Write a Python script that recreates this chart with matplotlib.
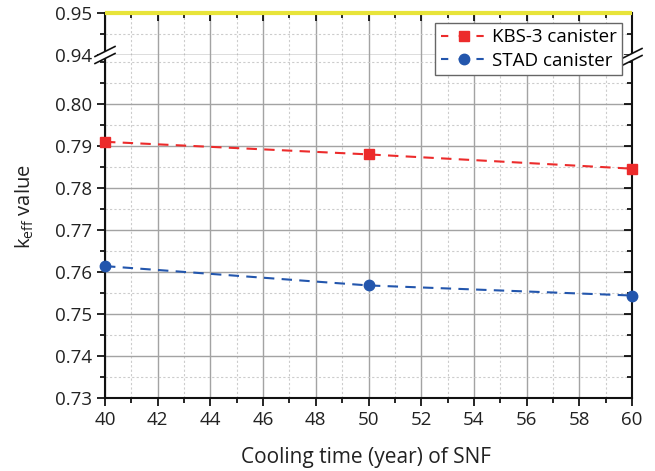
import matplotlib
matplotlib.use("Agg")
import matplotlib.pyplot as plt
from matplotlib.ticker import MultipleLocator
from matplotlib.lines import Line2D
from matplotlib.patches import Polygon

plt.rcParams['font.family'] = ['Open Sans', 'DejaVu Sans']
plt.rcParams['mathtext.fontset'] = 'custom'
plt.rcParams['mathtext.rm'] = 'Open Sans'
plt.rcParams['mathtext.it'] = 'Open Sans'

# data
cooling_time = [40, 50, 60]
kbs3 = [0.7910, 0.7880, 0.7846]
stad = [0.7614, 0.7568, 0.7544]
limit_value = 0.95
series_labels = ["KBS-3 canister", "STAD canister"]

red = '#ec2b2b'
blue = '#2356ad'
yellow = '#e8e43a'
txt = '#222222'

fig = plt.figure(figsize=(6.55, 4.71), dpi=100)
W, H = 655, 471
left, right = 105 / W, 632 / W
y_top, y_brk, y_bot = 1 - 13 / H, 1 - 55 / H, 1 - 398 / H

ax_hi = fig.add_axes([left, y_brk, right - left, y_top - y_brk])
ax_lo = fig.add_axes([left, y_bot, right - left, y_brk - y_bot])

gmaj = dict(color='#a3a3a3', lw=1.0, ls='-')
gmin = dict(color='#cccccc', lw=0.8, ls=(0, (2, 2)))

for ax in (ax_hi, ax_lo):
    ax.set_xlim(40, 60)
    ax.xaxis.set_major_locator(MultipleLocator(2))
    ax.xaxis.set_minor_locator(MultipleLocator(1))
    ax.yaxis.set_major_locator(MultipleLocator(0.01))
    ax.yaxis.set_minor_locator(MultipleLocator(0.005))
    ax.grid(True, which='major', **gmaj)
    ax.grid(True, which='minor', **gmin)
    ax.set_axisbelow(True)
    for s in ax.spines.values():
        s.set_linewidth(1.5)
        s.set_color('#111111')
    ax.tick_params(axis='y', which='both', left=True, right=True,
                   labelsize=13.5, labelcolor=txt, width=1.2, direction='out')
    ax.tick_params(axis='y', which='major', length=5.5, pad=4)
    ax.tick_params(axis='y', which='minor', length=3.5)
    ax.tick_params(axis='x', which='major', length=5.5, width=1.2)
    ax.tick_params(axis='x', which='minor', length=3.5, width=1.2)

# upper axis
ax_hi.set_ylim(0.94, 0.95)
ax_hi.spines['bottom'].set_visible(False)
ax_hi.spines['top'].set_visible(False)
ax_hi.tick_params(axis='x', which='both', bottom=False, labelbottom=False,
                  top=True, direction='in')
ax_hi.axhline(0.94, **gmaj)
ax_hi.set_yticks([0.94, 0.95])
ax_hi.set_yticklabels(['0.94', '0.95'])
ax_hi.plot([40, 60], [limit_value, limit_value], color=yellow, lw=3,
           clip_on=False, zorder=5, solid_capstyle='butt')

# lower axis
ax_lo.set_ylim(0.73, 0.73 + (398 - 55) / 42 * 0.01)
ax_lo.spines['top'].set_visible(False)
yt = [0.73, 0.74, 0.75, 0.76, 0.77, 0.78, 0.79, 0.80]
ax_lo.set_yticks(yt)
ax_lo.set_yticklabels([f'{v:.2f}' for v in yt])
ax_lo.tick_params(axis='x', which='both', top=False, direction='out',
                  labelsize=13.5, labelcolor=txt)
ax_lo.tick_params(axis='x', which='major', pad=4)

ax_lo.plot(cooling_time, kbs3, color=red, lw=1.5, ls=(0, (5, 3.5)),
           marker='s', ms=7.5, clip_on=False, zorder=6)
ax_lo.plot(cooling_time, stad, color=blue, lw=1.5, ls=(0, (5, 3.5)),
           marker='o', ms=7.5, clip_on=False, zorder=6)

# right spine ticks inward (mirror)
for ax in (ax_hi, ax_lo):
    for t in ax.yaxis.get_major_ticks() + ax.yaxis.get_minor_ticks():
        t.tick2line.set_marker(matplotlib.lines.TICKLEFT)

# break marks
def brk(xf, yf):
    dx, dy = 10 / W, 5 / H
    off = 3.5 / H
    poly = Polygon([(xf - dx, yf - dy - off), (xf + dx, yf + dy - off),
                    (xf + dx, yf + dy + off), (xf - dx, yf - dy + off)],
                   closed=True, transform=fig.transFigure, fc='white',
                   ec='none', zorder=10)
    fig.add_artist(poly)
    for o in (-off, off):
        fig.add_artist(Line2D([xf - dx, xf + dx], [yf - dy + o, yf + dy + o],
                              transform=fig.transFigure, color='#111111',
                              lw=1.2, zorder=11))

brk(left, y_brk)
brk(right, y_brk - 2 / H)

# labels
fig.text(366 / W, 1 - 457 / H, 'Cooling time (year) of SNF', ha='center',
         va='center', fontsize=15, color=txt)
fig.text(25 / W, 1 - 207 / H, r'k$_{\mathrm{eff}}$ value', ha='center',
         va='center', rotation=90, fontsize=14.5, color=txt)

handles = [Line2D([], [], color=red, lw=1.5, ls=(0, (3.5, 5)), marker='s', ms=7.5),
           Line2D([], [], color=blue, lw=1.5, ls=(0, (3.5, 5)), marker='o', ms=7.5)]
leg = fig.legend(handles, series_labels, loc='upper right',
                 bbox_to_anchor=(622 / W, 1 - 22.5 / H), fontsize=13.5,
                 frameon=True, fancybox=False, edgecolor='#666666',
                 framealpha=1, handlelength=2.5, handletextpad=0.2,
                 borderpad=0.3, labelspacing=0.3, borderaxespad=0)
leg.get_frame().set_linewidth(1.0)
leg.set_zorder(20)

fig.savefig('out.png', dpi=100)
